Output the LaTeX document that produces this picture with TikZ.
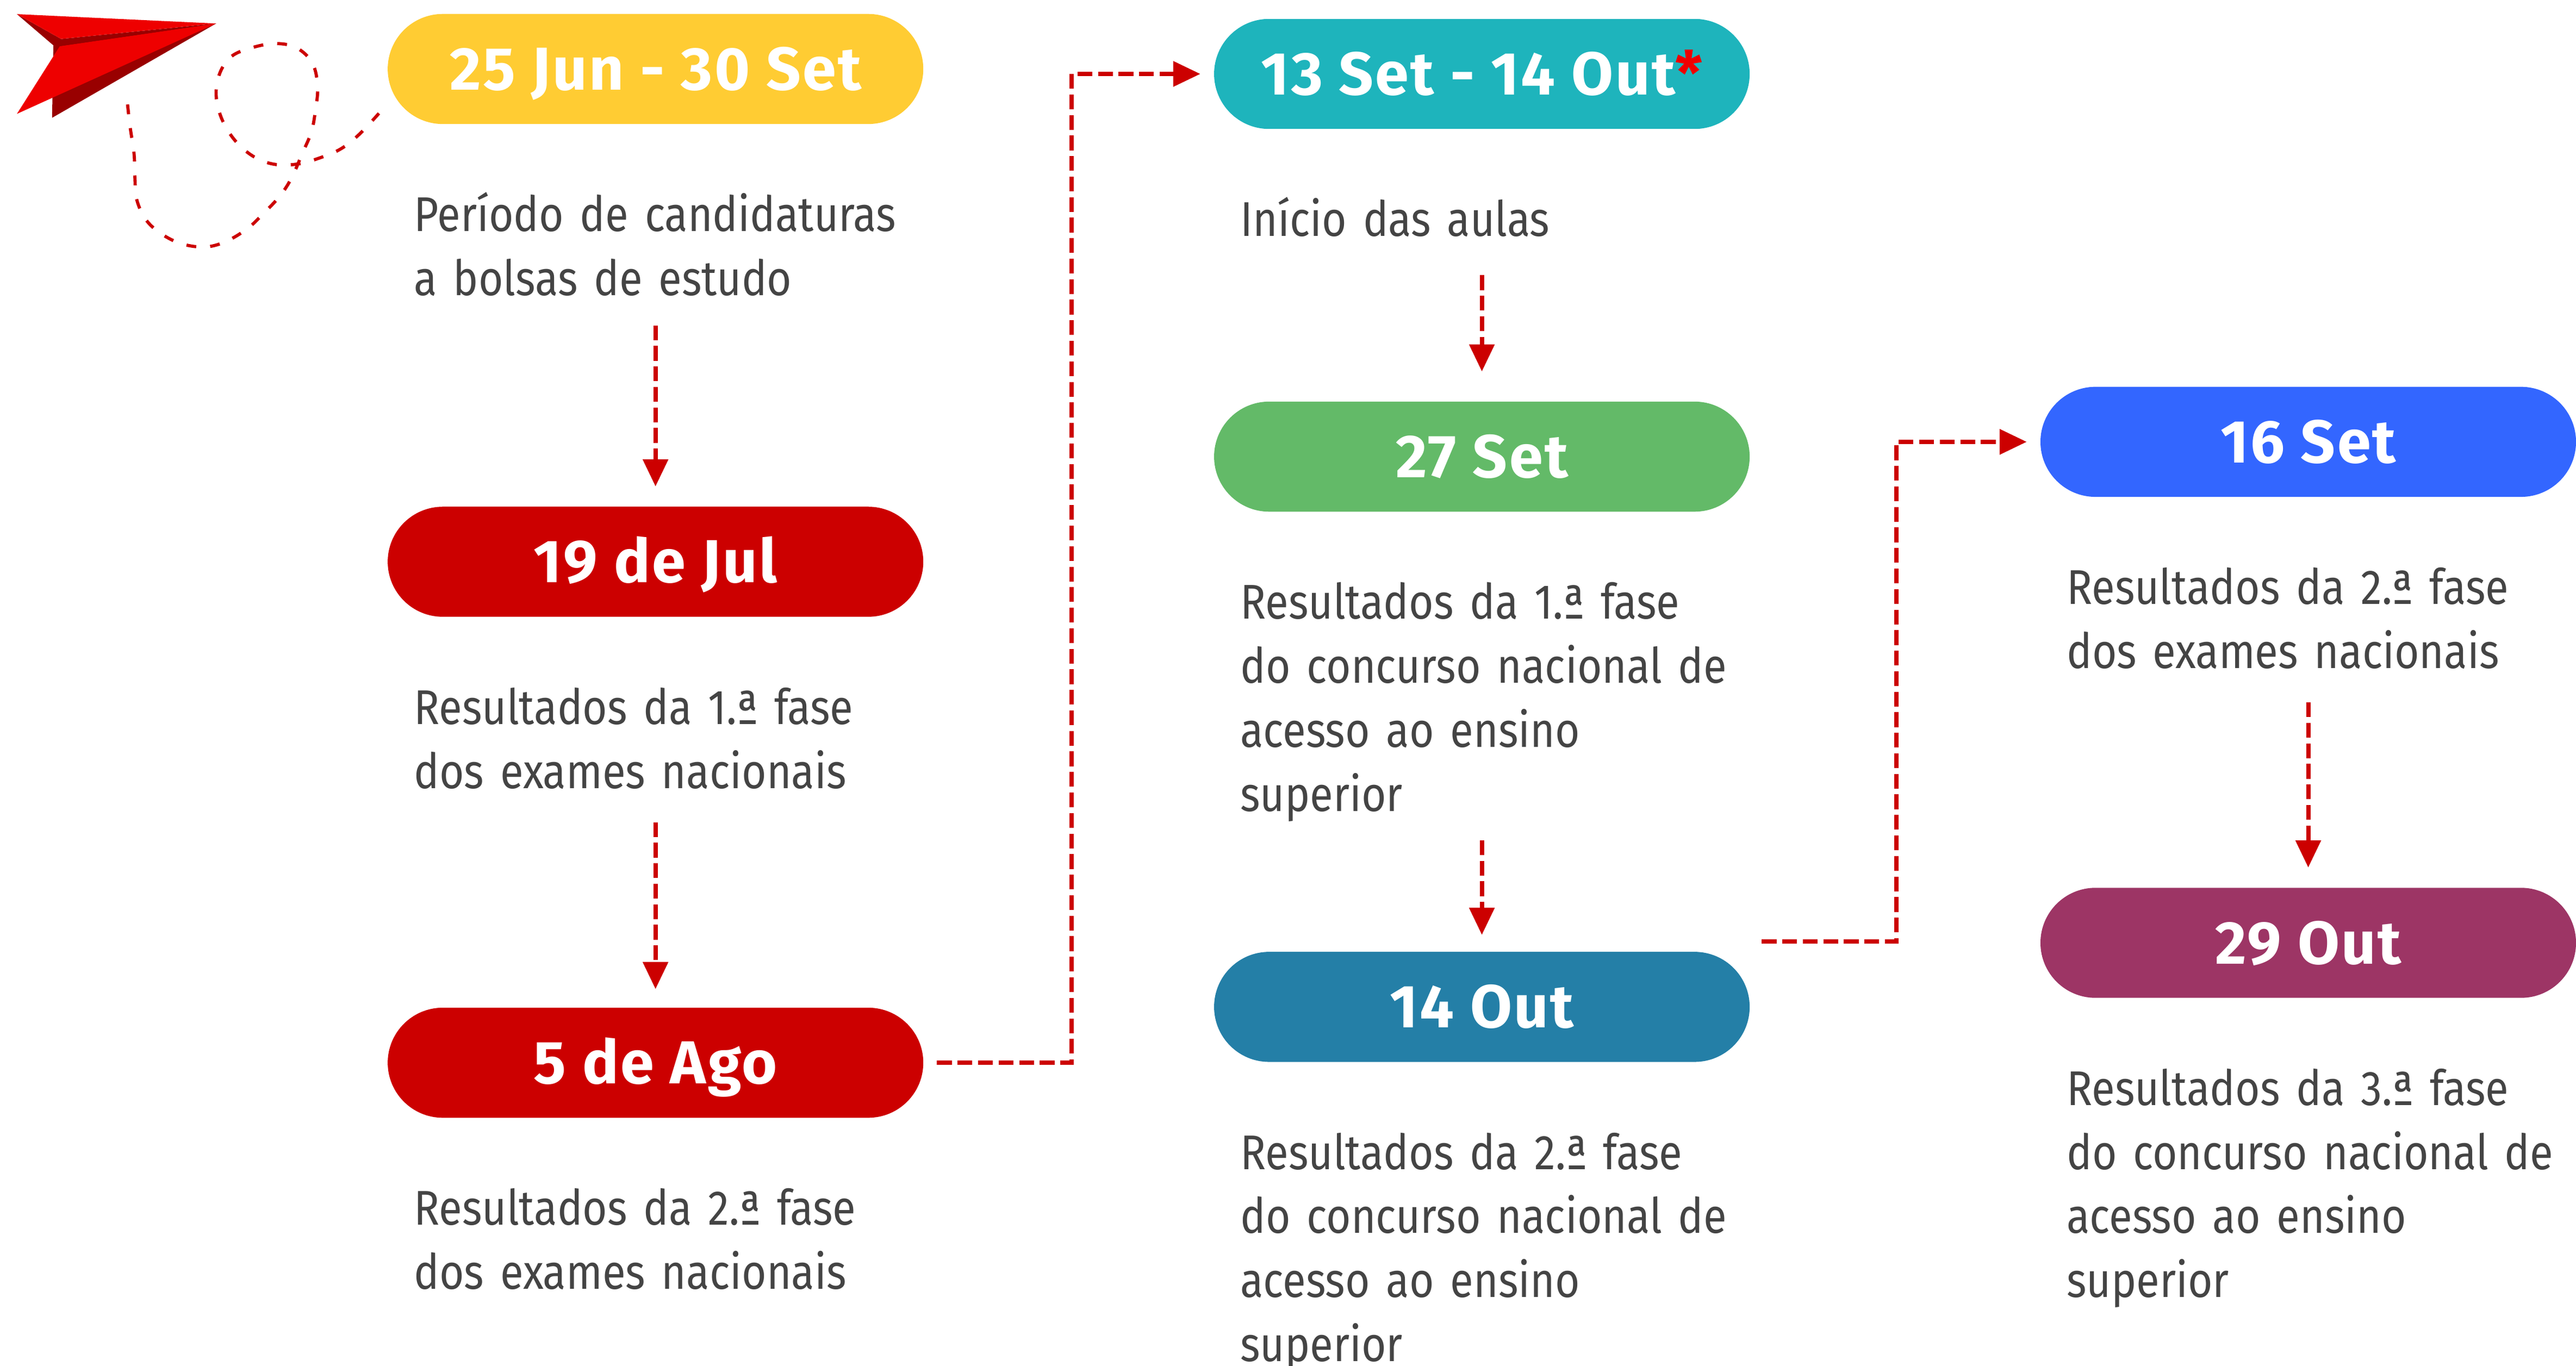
\documentclass[tikz,border=0pt]{standalone}
\usepackage{fontspec}
\setmainfont{Fira Sans}
\newfontfamily\descfont[FakeStretch=0.87]{Fira Sans}
\newfontfamily\datefont[LetterSpace=3]{Fira Sans}
\usetikzlibrary{positioning, arrows.meta}

\definecolor{sunyellow}{HTML}{FFCC33}
\definecolor{boxred}{HTML}{CC0000}
\definecolor{tealbox}{HTML}{1EB4BC}
\definecolor{greenbox}{HTML}{63BA68}
\definecolor{bluebox}{HTML}{247FA7}
\definecolor{brightblue}{HTML}{3366FF}
\definecolor{plumbox}{HTML}{9D3565}
\definecolor{textgray}{HTML}{444444}
\definecolor{planered}{HTML}{EE0000}
\definecolor{planedark}{HTML}{990000}

\tikzstyle{datebox} = [rectangle, rounded corners=0.67cm, minimum width=6.52cm, minimum height=1.34cm, inner sep=0pt, text centered, text height=0.51cm, text depth=0pt, text=white, font=\datefont\bfseries\fontsize{21pt}{25pt}\selectfont]
\tikzstyle{desc} = [text width=7cm, align=left, inner sep=0pt, anchor=base west, text=textgray, font=\descfont\fontsize{16.9pt}{22.2pt}\selectfont]
\tikzstyle{arrow} = [draw=boxred, line width=1.5pt, dash pattern=on 0.18cm off 0.07cm, -{Triangle[length=0.33cm, width=0.3cm]}]
\tikzstyle{trail} = [draw=boxred, line width=1.1pt, dash pattern=on 0.12cm off 0.17cm]

\begin{document}
\begin{tikzpicture}[node distance=6cm]
\useasboundingbox (0,0) rectangle (31.36,-16.627);

% paper plane and its trail
\begin{scope}[x=0.02cm, y=-0.02cm]
\fill[planedark] (32.5,27.6) -- (131.5,14.3) -- (31.7,71.7) -- cycle;
\fill[planered] (36.4,28.1) -- (131.5,14.3) -- (10.3,69.3) -- cycle;
\fill[planedark] (10.3,8.6) -- (37.2,23.7) -- (131.5,14.3) -- (36.4,28.1) -- (32.5,27.6) -- cycle;
\fill[planered] (10.3,8.6) -- (131.5,14.3) -- (37.2,23.7) -- cycle;
\draw[trail] plot[smooth, tension=0.6] coordinates {(230.6,69.0) (218.7,81.7) (207.6,90.5) (194.9,96.0) (180.7,99.9) (166.4,99.9) (153.7,94.9) (142.6,85.0) (134.7,71.7) (131.5,57.4) (133.9,44.2) (141.0,34.2) (153.7,28.9) (168.0,26.5) (180.7,29.2) (190.2,38.6) (193.3,53.0) (191.8,68.4) (189.4,80.6) (183.8,93.8) (177.5,108.2) (170.4,119.2) (160.1,130.2) (150.6,139.1) (137.9,146.8) (125.2,150.3) (110.9,148.5) (98.3,142.4) (88.7,133.6) (83.2,121.4) (82.1,108.2) (81.6,93.8) (79.2,77.3) (77.3,60.7)};
\end{scope}

% dates
\node (p1) [datebox, fill=sunyellow] at (7.98,-0.84) {25 Jun - 30 Set};
\node (p2) [datebox, fill=boxred, below of=p1] {19 de Jul};
\node (p3) [datebox, fill=boxred, below of=p2, yshift=-0.1cm] {5 de Ago};
\node (p4) [datebox, fill=tealbox, right of=p1, xshift=4.06cm, yshift=-0.06cm] {13 Set - 14 Out\textcolor{planered}{*}};
\node (p5) [datebox, fill=greenbox, below of=p4, yshift=1.34cm] {27 Set};
\node (p6) [datebox, fill=bluebox, below of=p5, yshift=-0.7cm] {14 Out};
\node (p7) [datebox, fill=brightblue, right of=p5, xshift=4.06cm, yshift=0.18cm] {16 Set};
\node (p8) [datebox, fill=plumbox, below of=p7, yshift=-0.1cm] {29 Out};

% what happens
\node (d1) [below=1.3cm of p1.south west, desc, xshift=0.32cm] {Período de candidaturas\\a bolsas de estudo};
\node (d2) [below=1.3cm of p2.south west, desc, xshift=0.32cm] {Resultados da 1.ª fase\\dos exames nacionais};
\node (d3) [below=1.3cm of p3.south west, desc, xshift=0.32cm] {Resultados da 2.ª fase\\dos exames nacionais};
\node (d4) [below=1.3cm of p4.south west, desc, xshift=0.32cm] {Início das aulas};
\node (d5) [below=1.3cm of p5.south west, desc, xshift=0.32cm] {Resultados da 1.ª fase\\do concurso nacional de\\acesso ao ensino\\superior};
\node (d6) [below=1.3cm of p6.south west, desc, xshift=0.32cm] {Resultados da 2.ª fase\\do concurso nacional de\\acesso ao ensino\\superior};
\node (d7) [below=1.3cm of p7.south west, desc, xshift=0.32cm] {Resultados da 2.ª fase\\dos exames nacionais};
\node (d8) [below=1.3cm of p8.south west, desc, xshift=0.32cm] {Resultados da 3.ª fase\\do concurso nacional de\\acesso ao ensino\\superior};

\coordinate (c6) at ([shift={(0.14cm,0.12cm)}]p6.north east);

\draw [arrow, shorten <=0.35cm, shorten >=0.24cm] (d1.south -| p2.north) -- (p2.north);
\draw [arrow, shorten <=0.4cm, shorten >=0.22cm] (d2.south -| p3.north) -- (p3.north);
\draw [arrow, shorten <=0.46cm, shorten >=0.36cm] (d4.south -| p5.north) -- (p5.north);
\draw [arrow, shorten <=0.22cm, shorten >=0.2cm] (d5.south -| p6.north) -- (p6.north);
\draw [arrow, shorten <=0.4cm, shorten >=0.24cm] (d7.south -| p8.north) -- (p8.north);
\draw [arrow, shorten <=0.16cm, shorten >=0.16cm] (p3.east) -- ++(1.8,0) |- (p4.west);
\draw [arrow, shorten >=0.16cm] (c6) -- ++(1.64,0) |- (p7.west);
\end{tikzpicture}
\end{document}
